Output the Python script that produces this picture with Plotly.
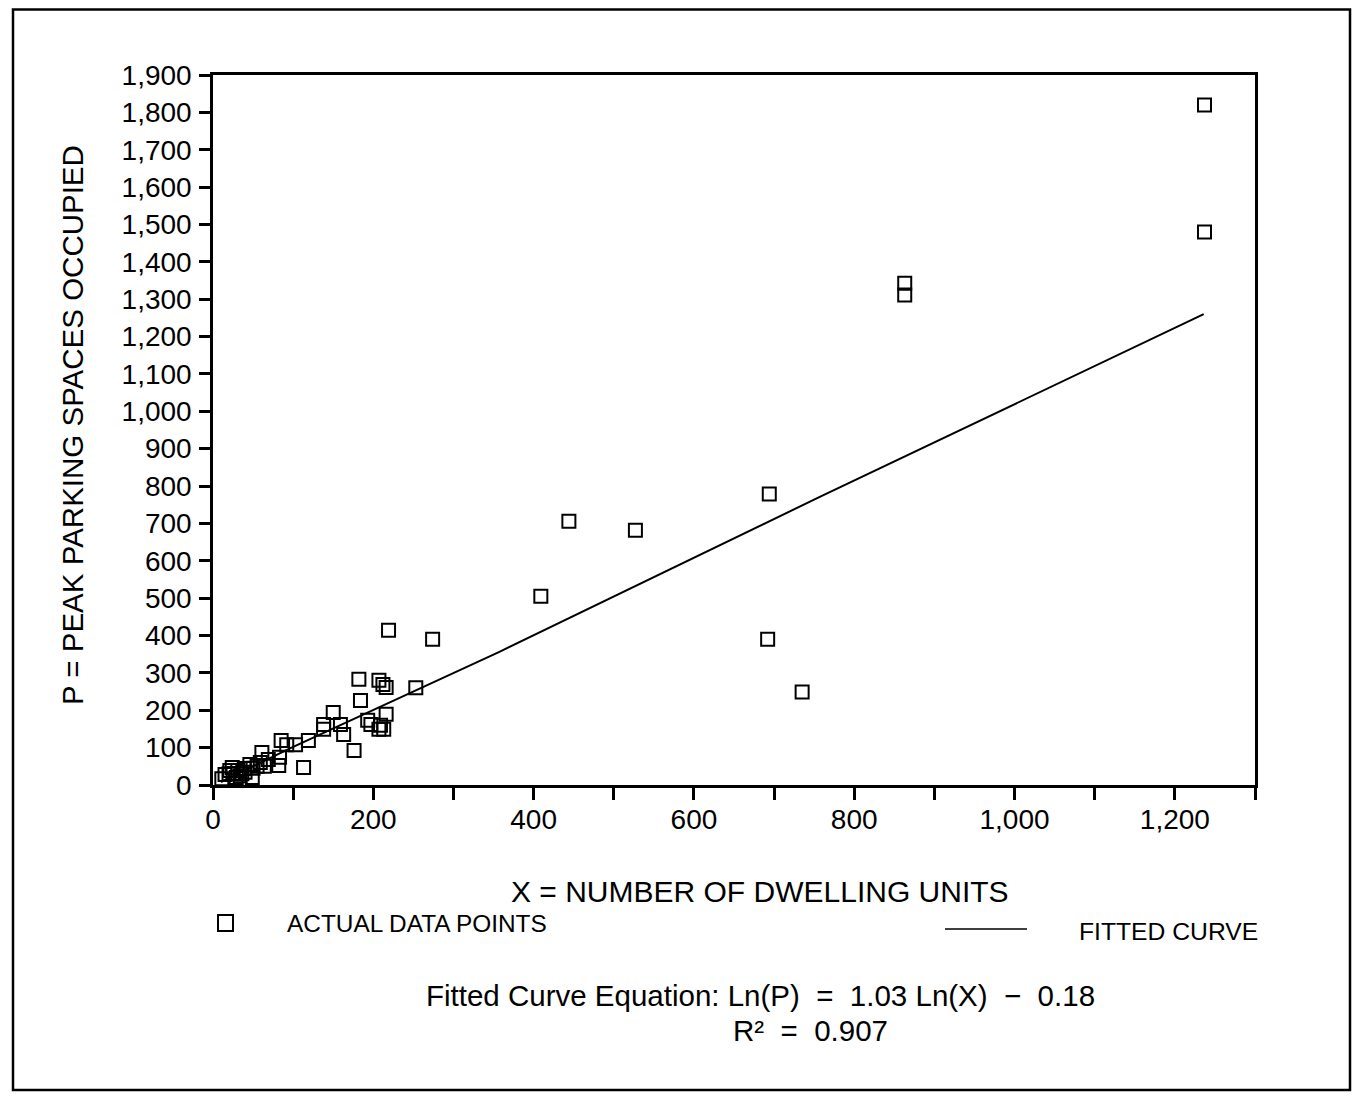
import plotly.graph_objects as go

# ---- data ----
dwelling_units = [11, 15, 21, 25, 31, 29, 34, 24, 39, 40, 46, 49, 55, 59, 61, 64, 69, 82, 83, 85, 92,
                  103, 113, 119, 20, 36, 50,
                  138, 138, 150, 159, 163, 176, 184, 182, 193, 197, 207, 209, 213, 216, 207, 212, 216,
                  219, 253, 274,
                  409, 444, 527, 692, 694, 735, 863, 863, 1237, 1237]
peak_spaces = [17, 28, 39, 31, 39, 20, 25, 47, 44, 34, 55, 20, 50, 60, 87, 50, 68, 52, 74, 119, 108,
               108, 47, 119, 30, 30, 45,
               162, 149, 194, 162, 135, 92, 226, 283, 173, 162, 149, 160, 149, 189, 280, 269, 261,
               414, 260, 390,
               505, 706, 682, 390, 779, 249, 1343, 1311, 1480, 1820]

fit_x = [10, 96, 358, 757, 1236]
fit_y = [8, 98, 357, 771, 1260]

x_tickvals = [0, 100, 200, 300, 400, 500, 600, 700, 800, 900, 1000, 1100, 1200, 1300]
x_ticktext = ["0", "", "200", "", "400", "", "600", "", "800", "", "1,000", "", "1,200", ""]
y_tickvals = [0, 100, 200, 300, 400, 500, 600, 700, 800, 900, 1000, 1100, 1200, 1300, 1400,
              1500, 1600, 1700, 1800, 1900]
y_ticktext = ["0", "100", "200", "300", "400", "500", "600", "700", "800", "900", "1,000", "1,100",
              "1,200", "1,300", "1,400", "1,500", "1,600", "1,700", "1,800", "1,900"]

# ---- layout geometry (page pixels; the page body adds an 8px offset) ----
OFF = 8
WIDTH, HEIGHT = 1364 - OFF, 1097 - OFF
L, R, T, B = 213, 1255, 75, 785
PW, PH = R - L, B - T


def px(x):
    return (x - L) / PW


def py(y):
    return (B - y) / PH


FONT = "Liberation Sans, Arial, Helvetica, sans-serif"

fig = go.Figure()
fig.add_trace(go.Scatter(
    x=fit_x, y=fit_y, mode="lines",
    line=dict(color="black", width=2),
    name="FITTED CURVE", showlegend=False, hoverinfo="skip"))
fig.add_trace(go.Scatter(
    x=dwelling_units, y=peak_spaces, mode="markers",
    marker=dict(symbol="square-open", size=13, color="black", line=dict(width=2, color="black")),
    name="ACTUAL DATA POINTS", showlegend=False, cliponaxis=False))

fig.update_xaxes(
    range=[0, 1300], tickmode="array", tickvals=x_tickvals, ticktext=x_ticktext,
    showline=True, linecolor="black", linewidth=2.5, mirror=True,
    ticks="outside", ticklen=12, tickwidth=2.5, tickcolor="black",
    showgrid=False, zeroline=False, ticklabelstandoff=-4,
    tickfont=dict(family=FONT, size=28, color="black"))
fig.update_yaxes(
    range=[0, 1900], tickmode="array", tickvals=y_tickvals, ticktext=y_ticktext,
    showline=True, linecolor="black", linewidth=2.5, mirror=True,
    ticks="outside", ticklen=11, tickwidth=2.5, tickcolor="black",
    showgrid=False, zeroline=False, ticklabelstandoff=2,
    tickfont=dict(family=FONT, size=28, color="black"))

annotations = [
    dict(text="X = NUMBER OF DWELLING UNITS", x=px(760), y=py(891), size=30),
    dict(text="P = PEAK PARKING SPACES OCCUPIED", x=px(72), y=py(425), size=29.5, angle=-90),
    dict(text="ACTUAL DATA POINTS", x=px(285), y=py(923), size=24.4, anchor="left"),
    dict(text="FITTED CURVE", x=px(1077), y=py(931), size=24.7, anchor="left"),
    dict(text="Fitted Curve Equation: Ln(P)  =  1.03 Ln(X)  \u2212  0.18", x=px(760), y=py(995), size=29.5),
    dict(text="R\u00b2  =  0.907", x=px(810), y=py(1030), size=29.5),
]
for a in annotations:
    fig.add_annotation(
        text=a["text"], x=a["x"], y=a["y"], xref="paper", yref="paper",
        xanchor=a.get("anchor", "center"), yanchor="middle", showarrow=False,
        textangle=a.get("angle", 0),
        font=dict(family=FONT, size=a["size"], color="black"))

shapes = [
    dict(type="rect", x0=px(13), x1=px(1350), y0=py(1090), y1=py(9.5),
         line=dict(color="black", width=2.5)),
    dict(type="rect", x0=px(218), x1=px(233), y0=py(931), y1=py(915),
         line=dict(color="black", width=2)),
    dict(type="line", x0=px(945), x1=px(1027), y0=py(929), y1=py(929),
         line=dict(color="black", width=1.5)),
]
for s in shapes:
    fig.add_shape(xref="paper", yref="paper", **s)

fig.update_layout(
    width=WIDTH, height=HEIGHT,
    margin=dict(l=L - OFF, r=WIDTH - (R - OFF), t=T - OFF, b=HEIGHT - (B - OFF)),
    paper_bgcolor="white", plot_bgcolor="white",
    font=dict(family=FONT, color="black"),
    showlegend=False)

fig.write_html("out.html")
